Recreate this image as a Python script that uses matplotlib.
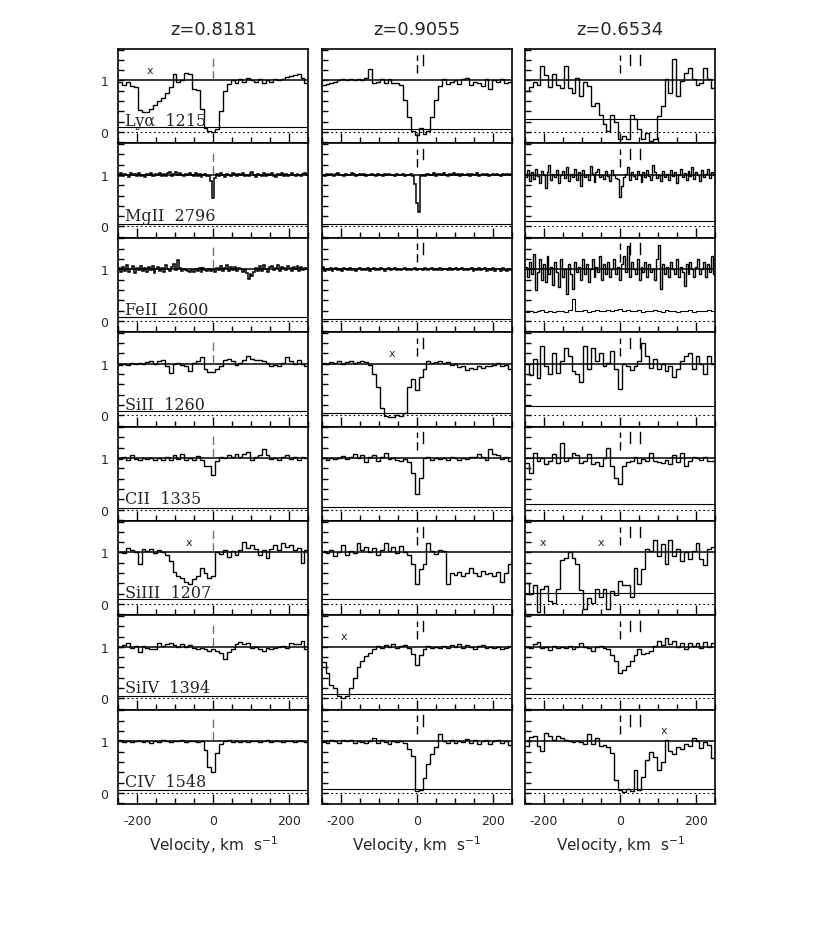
import matplotlib
matplotlib.use("Agg")
import matplotlib.pyplot as plt
import numpy as np
from matplotlib.ticker import MultipleLocator

plt.rcParams["axes.unicode_minus"] = False

# column titles and line labels
REDSHIFTS = ["z=0.8181", "z=0.9055", "z=0.6534"]
IONS = ["Ly\u03b1  1215", "MgII  2796", "FeII  2600", "SiII  1260",
        "CII  1335", "SiIII  1207", "SiIV  1394", "CIV  1548"]

# normalised flux, bins spanning -250..+250 km/s (centre bin = 0 km/s)
# ---- z = 0.8181 ----
lya_a = [0.97, 0.92, 0.98, 0.90, 0.88, 0.42, 0.38,
         0.38, 0.44, 0.52, 0.60, 0.67, 0.75, 0.88,
         1.12, 0.97, 1.00, 1.15, 1.12, 0.84, 0.82,
         0.45, 0.08, 0.03, 0.00, 0.05, 0.40, 0.80,
         0.93, 1.00, 0.95, 1.02, 0.97, 1.04, 1.00,
         0.98, 1.03, 0.95, 1.00, 0.98, 1.02, 1.00,
         1.03, 1.06, 1.08, 1.10, 1.13, 1.05, 0.95]
mg_a = [0.98, 1.03, 0.97, 1.02, 1.00, 0.96, 1.03, 0.99, 1.01, 0.97, 1.04, 0.98,
        1.00, 0.96, 1.02, 1.00, 1.03, 0.98, 0.97, 1.02, 1.00, 1.04, 0.98, 1.01,
        0.97, 1.03, 1.05, 0.98, 1.02, 1.06, 0.99, 1.03, 1.00, 0.97, 1.02, 0.99,
        1.04, 1.00, 0.97, 1.03, 0.98, 1.01, 0.96, 1.00, 1.02, 0.98, 0.97, 0.88,
        0.56, 0.93, 1.01, 0.98, 1.03, 0.99, 0.96, 1.02, 1.00, 0.98, 1.03, 1.01,
        0.97, 1.02, 0.99, 1.04, 0.98, 1.00, 0.97, 1.03, 1.05, 0.99, 0.96, 1.02,
        1.00, 0.98, 1.03, 0.97, 1.01, 0.99, 1.04, 0.98, 0.96, 1.02, 1.00, 1.03,
        0.98, 1.01, 0.97, 1.00, 1.03, 0.99, 0.98, 1.02, 1.00, 0.97, 1.01, 1.03, 0.99]
fe_a = [1.02, 0.95, 1.05, 0.97, 1.08, 0.94, 1.00, 1.06, 0.93, 1.03, 0.98, 1.07,
        0.96, 1.02, 0.95, 1.04, 0.99, 1.06, 0.92, 1.01, 1.05, 0.97, 1.03, 0.95,
        1.08, 1.00, 0.96, 1.04, 1.10, 0.98, 1.18, 1.02, 0.97, 1.00, 0.98, 0.96,
        0.95, 0.98, 0.94, 1.00, 0.97, 1.02, 0.95, 1.03, 0.98, 0.96, 1.00, 0.97,
        1.01, 0.95, 1.03, 0.98, 1.06, 0.97, 1.02, 1.08, 0.96, 1.04, 0.99, 1.05,
        0.97, 1.03, 1.00, 0.95, 0.98, 0.92, 0.82, 0.90, 0.87, 0.95, 1.02, 0.97,
        1.06, 0.96, 1.08, 1.00, 0.95, 1.04, 1.07, 0.98, 1.02, 1.08, 0.97, 1.05,
        1.03, 0.98, 1.06, 1.02, 0.96, 1.05, 1.00, 1.07, 0.97, 1.04, 0.99, 1.03, 1.00]
si2_a = [0.97, 1.00, 0.98, 1.02, 0.99, 1.02, 1.00,
         1.03, 1.06, 1.00, 1.05, 1.08, 0.95, 0.82,
         1.00, 1.02, 0.98, 0.96, 0.85, 1.02, 1.06,
         1.12, 0.90, 0.83, 0.84, 0.90, 0.95, 1.08,
         1.10, 1.05, 0.97, 1.02, 1.07, 1.15, 1.10,
         1.08, 1.08, 1.05, 1.02, 0.96, 0.98, 0.96,
         1.02, 1.12, 1.05, 1.00, 1.07, 1.00, 0.96]
c2_a = [0.98, 1.02, 0.97, 1.06, 0.98, 0.97, 1.00,
        0.99, 1.00, 0.97, 1.01, 0.96, 1.02, 0.97,
        1.05, 0.98, 1.08, 0.96, 1.00, 0.96, 1.04,
        0.96, 0.85, 0.84, 0.68, 0.95, 1.02, 1.00,
        1.05, 1.03, 1.07, 1.02, 1.08, 1.12, 0.97,
        1.02, 1.06, 1.18, 1.05, 0.98, 1.00, 0.96,
        1.02, 1.05, 0.98, 1.02, 0.97, 1.02, 1.00]
si3_a = [1.00, 0.98, 1.08, 1.05, 1.00, 0.78, 1.07,
         1.02, 1.06, 0.98, 1.04, 1.00, 0.96, 0.83,
         0.62, 0.55, 0.50, 0.42, 0.38, 0.48, 0.55,
         0.70, 0.60, 0.50, 0.55, 1.00, 0.97, 1.04,
         0.92, 1.02, 0.95, 1.05, 1.20, 1.08, 1.15,
         1.06, 0.95, 1.05, 0.90, 1.07, 1.15, 1.05,
         1.18, 1.10, 1.15, 1.05, 1.08, 0.80, 1.05]
si4_a = [1.00, 1.04, 1.08, 0.98, 1.02, 0.90, 1.02,
         0.98, 0.96, 0.95, 1.08, 1.02, 1.05, 1.08,
         1.03, 1.00, 1.05, 1.00, 1.03, 0.98, 0.96,
         0.97, 0.95, 0.92, 0.96, 0.92, 0.88, 0.77,
         0.90, 0.95, 1.05, 1.10, 1.06, 1.08, 0.98,
         1.00, 0.95, 0.92, 0.98, 0.96, 0.98, 1.00,
         1.02, 0.98, 1.08, 1.06, 1.05, 1.12, 0.96]
c4_a = [1.02, 0.99, 1.00, 0.98, 1.01, 1.00, 0.99,
        1.00, 0.97, 1.01, 0.99, 1.02, 1.00, 0.98,
        1.01, 1.00, 1.02, 0.99, 1.01, 1.00, 0.99,
        1.00, 0.83, 0.50, 0.40, 0.78, 0.95, 1.00,
        1.02, 0.99, 1.00, 0.98, 1.01, 0.99, 1.00,
        1.01, 0.98, 1.00, 1.02, 0.99, 1.00, 1.01,
        0.99, 1.00, 1.01, 0.98, 1.00, 1.01, 0.99]

# ---- z = 0.9055 ----
lya_b = [0.92, 0.93, 0.95, 0.98, 1.00, 1.02, 1.01,
         1.02, 1.00, 1.02, 1.00, 1.05, 1.22, 0.95,
         0.98, 1.02, 0.96, 1.03, 0.96, 0.95, 0.92,
         0.62, 0.30, 0.03, -0.05, 0.08, -0.04, 0.02,
         0.30, 0.62, 0.90, 1.02, 0.93, 0.98, 1.01,
         0.93, 1.03, 1.05, 0.92, 0.97, 0.96, 0.90,
         1.02, 0.83, 1.00, 0.97, 1.02, 0.96, 0.98]
mg_b = [1.00, 0.98, 1.01, 0.99, 1.02, 1.00, 0.98, 1.01, 1.03, 0.99, 1.00, 0.98,
        1.02, 1.00, 0.99, 1.03, 1.01, 0.98, 1.00, 1.02, 0.99, 1.01, 0.98, 1.00,
        0.99, 1.01, 1.00, 0.98, 1.02, 0.99, 1.00, 0.97, 1.01, 1.00, 1.02, 0.99,
        1.00, 0.98, 1.01, 0.99, 1.00, 1.02, 0.98, 1.00, 0.99, 1.01, 0.97, 0.82,
        0.45, 0.28, 0.97, 1.00, 0.98, 1.01, 1.02, 0.99, 1.00, 1.03, 0.98, 1.01,
        1.02, 0.99, 1.03, 1.00, 0.98, 1.02, 1.00, 1.03, 0.99, 1.01, 0.98, 1.02,
        1.00, 0.99, 1.01, 0.98, 1.02, 1.00, 0.99, 1.03, 0.98, 1.00, 1.01, 0.99,
        1.02, 0.98, 1.00, 1.01, 0.99, 1.02, 1.00, 0.98, 1.01, 1.00, 1.02, 0.99, 1.01]
fe_b = [1.04, 0.97, 1.00, 0.98, 1.02, 0.96, 1.01, 1.03, 0.98, 1.00, 0.97, 1.02,
        1.00, 0.98, 1.03, 0.99, 1.01, 0.97, 1.00, 1.02, 0.98, 1.01, 0.99, 1.03,
        0.97, 1.00, 1.02, 0.99, 1.01, 0.98, 1.02, 1.00, 0.97, 1.01, 1.03, 0.99,
        1.00, 1.02, 0.98, 1.01, 0.99, 1.00, 1.02, 0.98, 1.01, 0.99, 1.00, 1.02,
        0.98, 1.00, 1.01, 0.99, 1.02, 1.00, 0.98, 1.01, 1.03, 0.99, 1.00, 0.98,
        1.02, 0.99, 1.01, 1.00, 0.98, 1.02, 0.99, 1.01, 1.03, 0.98, 1.00, 1.02,
        0.99, 1.01, 0.98, 1.00, 1.02, 0.97, 1.01, 0.99, 1.03, 0.98, 1.00, 1.02,
        0.97, 1.01, 0.99, 1.02, 0.96, 1.00, 1.01, 0.97, 1.02, 0.98, 0.96, 1.00, 0.98]
si2_b = [1.02, 1.00, 1.03, 1.02, 1.05, 1.00, 1.03,
         1.06, 1.02, 1.04, 1.05, 1.03, 0.97, 0.80,
         0.55, 0.15, -0.02, -0.04, -0.03, 0.00, -0.02,
         0.05, 0.55, 0.70, 0.48, 0.75, 0.90, 1.05,
         1.02, 1.04, 1.06, 1.02, 1.03, 0.98, 1.00,
         0.93, 0.95, 0.88, 0.92, 0.90, 0.95, 0.92,
         0.96, 0.95, 0.97, 1.02, 0.96, 0.97, 0.90]
c2_b = [1.00, 0.97, 1.00, 0.98, 1.00, 1.04, 0.98,
        1.02, 1.08, 1.00, 1.06, 0.92, 1.02, 1.05,
        0.95, 1.03, 1.10, 0.98, 1.00, 0.97, 0.95,
        0.99, 0.92, 0.72, 0.30, 0.62, 1.00, 1.03,
        0.97, 1.00, 0.98, 1.00, 0.96, 1.02, 1.00,
        0.97, 1.01, 0.98, 1.03, 1.02, 1.08, 1.02,
        0.96, 1.18, 1.08, 1.05, 0.98, 1.03, 0.95]
si3_b = [1.02, 0.98, 1.05, 0.93, 1.00, 1.15, 0.95,
         1.03, 0.99, 1.18, 1.05, 1.10, 1.00, 1.08,
         0.95, 1.05, 1.18, 1.02, 1.10, 0.98, 1.12,
         1.00, 0.95, 0.78, 0.38, 0.68, 0.78, 1.18,
         1.02, 0.97, 1.04, 1.02, 0.38, 0.60, 0.57,
         0.62, 0.55, 0.60, 0.70, 0.60, 0.55, 0.65,
         0.58, 0.60, 0.55, 0.62, 0.42, 0.60, 0.78]
si4_b = [0.70, 0.50, 0.26, 0.20, 0.05, 0.00, 0.04,
         0.20, 0.40, 0.60, 0.72, 0.82, 0.88, 0.95,
         1.02, 0.98, 1.03, 1.00, 1.05, 0.98, 1.02,
         1.04, 0.97, 0.86, 0.65, 0.85, 0.95, 1.02,
         0.97, 1.00, 0.98, 1.02, 0.97, 1.03, 1.00,
         1.05, 0.98, 1.04, 1.00, 0.95, 1.02, 1.03,
         0.98, 1.00, 0.97, 1.00, 0.96, 0.98, 1.02]
c4_b = [0.98, 0.96, 1.02, 1.00, 0.97, 1.03, 1.00,
        1.02, 0.97, 1.00, 0.98, 0.96, 1.00, 1.07,
        0.96, 1.02, 0.98, 0.95, 1.00, 0.98, 1.01,
        0.96, 0.85, 0.72, 0.04, 0.06, 0.28, 0.55,
        0.75, 0.88, 1.15, 1.00, 0.96, 1.02, 0.97,
        1.00, 0.98, 1.05, 0.97, 1.02, 0.95, 1.00,
        1.03, 0.94, 1.00, 1.02, 0.97, 1.00, 0.92]

# ---- z = 0.6534 ----
lya_c = [0.80, 0.88, 0.97, 0.92, 1.28, 1.10, 0.88,
         1.12, 0.92, 0.86, 1.28, 0.85, 0.76, 1.05,
         0.70, 0.98, 0.90, 0.50, 0.57, 0.34, 0.15,
         0.02, 0.34, 0.20, -0.14, -0.08, -0.14, 0.34,
         0.25, 0.05, -0.14, -0.01, -0.17, -0.14, 0.31,
         0.50, 1.02, 0.76, 1.41, 0.70, 0.99, 1.15,
         1.25, 1.02, 0.92, 0.95, 1.25, 1.02, 0.86]
mg_c = [0.95, 1.10, 0.88, 1.05, 0.92, 1.12, 0.97, 0.85, 1.08, 1.00, 0.75, 1.05,
        1.20, 0.90, 1.02, 0.95, 1.10, 0.85, 1.00, 1.08, 0.93, 1.15, 0.88, 1.02,
        0.96, 1.12, 0.90, 1.05, 0.78, 1.10, 0.95, 1.00, 0.90, 1.18, 1.02, 0.87,
        1.05, 1.12, 0.95, 1.00, 0.92, 1.08, 0.97, 0.88, 1.10, 1.00, 0.93, 0.92,
        0.58, 0.78, 0.95, 1.02, 1.15, 0.90, 1.05, 0.98, 0.92, 1.08, 1.00, 0.87,
        1.05, 0.95, 1.10, 0.98, 0.90, 1.20, 1.05, 0.93, 1.00, 0.88, 1.08, 0.95,
        1.02, 0.90, 1.10, 0.97, 1.05, 0.85, 1.00, 1.12, 0.95, 1.03, 0.90, 1.08,
        0.98, 1.15, 0.92, 1.05, 1.00, 0.88, 1.10, 0.95, 1.02, 1.12, 0.93, 1.05, 1.00]
fe_c = [1.05, 0.85, 1.15, 0.90, 1.30, 0.60, 0.95, 1.20, 0.80, 1.10, 0.75, 1.25,
        0.90, 1.05, 0.70, 1.15, 0.95, 0.65, 1.20, 0.85, 1.00, 0.52, 1.10, 0.90,
        0.62, 1.15, 0.95, 1.05, 0.80, 1.20, 0.90, 1.10, 0.75, 1.00, 1.20, 0.85,
        1.05, 0.95, 1.25, 0.80, 1.10, 0.90, 1.15, 0.85, 1.00, 1.20, 0.90, 1.05,
        0.80, 1.10, 1.25, 0.95, 1.45, 0.85, 1.15, 1.00, 0.90, 1.20, 0.80, 1.05,
        0.95, 1.15, 0.85, 1.10, 0.95, 1.00, 0.80, 1.20, 1.48, 0.62, 1.10, 0.90,
        1.05, 0.85, 1.15, 1.00, 0.90, 1.20, 0.85, 1.05, 0.95, 0.68, 1.10, 0.90,
        1.15, 1.00, 0.85, 1.05, 1.20, 0.90, 1.00, 1.15, 0.85, 1.10, 0.95, 1.25, 0.90]
si2_c = [1.00, 0.78, 1.10, 0.72, 1.35, 0.95, 0.80,
         1.20, 0.82, 1.05, 1.30, 1.15, 0.85, 0.80,
         0.65, 1.35, 0.90, 1.30, 1.05, 1.20, 0.95,
         1.02, 1.25, 0.90, 0.50, 1.00, 0.95, 0.88,
         0.95, 1.05, 1.40, 1.15, 0.92, 1.10, 0.90,
         1.00, 0.85, 0.95, 0.75, 0.90, 1.05, 1.15,
         1.20, 0.90, 1.15, 1.00, 0.80, 1.15, 1.00]
c2_c = [0.90, 0.72, 1.10, 0.95, 1.00, 0.88, 0.95,
        1.08, 0.90, 1.30, 0.95, 1.00, 1.10, 1.05,
        0.90, 0.95, 1.08, 0.88, 0.93, 0.85, 1.00,
        1.20, 0.85, 0.62, 0.50, 0.85, 0.92, 0.95,
        1.02, 0.90, 0.98, 0.94, 1.10, 0.95, 0.92,
        0.90, 0.97, 0.88, 1.05, 0.93, 1.10, 0.85,
        0.95, 1.02, 1.00, 0.96, 1.03, 0.95, 0.95]
si3_c = [0.40, 0.20, 0.36, -0.15, 0.30, 0.35, 0.06,
         0.02, 0.30, 0.85, 0.90, 1.00, 0.90, 0.78,
         0.27, -0.10, 0.12, 0.02, 0.30, 0.14, 0.30,
         -0.10, 0.25, 0.17, 0.45, 0.36, 0.36, 0.14,
         0.70, 0.39, 0.68, 1.06, 1.03, 1.25, 0.94,
         1.16, 0.78, 1.25, 0.94, 1.06, 0.84, 1.00,
         0.87, 1.03, 1.19, 0.87, 0.75, 1.06, 1.10]
si4_c = [1.00, 0.98, 1.05, 1.10, 0.98, 1.00, 0.93,
         1.02, 0.98, 1.00, 0.97, 1.02, 0.96, 1.00,
         1.08, 1.00, 0.98, 0.92, 1.00, 1.02, 0.97,
         0.95, 0.85, 0.72, 0.50, 0.55, 0.62, 0.72,
         0.85, 0.95, 0.86, 0.88, 0.92, 1.02, 1.12,
         1.04, 1.18, 1.06, 1.12, 1.00, 1.08, 0.96,
         1.08, 1.02, 1.08, 0.98, 1.10, 1.00, 1.08]
c4_c = [0.90, 1.08, 1.10, 0.90, 0.82, 1.16, 1.10,
        1.02, 1.10, 1.06, 1.02, 1.00, 0.99, 1.01,
        0.98, 0.95, 1.14, 0.95, 1.07, 0.90, 0.92,
        0.89, 0.78, 0.25, 0.05, 0.02, 0.08, 0.03,
        0.44, 0.06, 0.30, 0.63, 0.80, 0.70, 0.45,
        0.60, 1.02, 0.82, 0.76, 0.88, 0.85, 0.95,
        0.90, 1.07, 1.00, 0.87, 0.98, 0.92, 0.68]

# error spectra: flat levels, FeII at z=0.6534 is a noisy array
err_fe_c = [0.18, 0.20, 0.17, 0.19, 0.21, 0.18, 0.20, 0.17, 0.19, 0.20, 0.18, 0.21,
            0.42, 0.20, 0.19, 0.22, 0.18, 0.20, 0.21, 0.19, 0.20, 0.22, 0.19, 0.21,
            0.23, 0.20, 0.22, 0.19, 0.20, 0.21, 0.18, 0.20, 0.19, 0.22, 0.20, 0.18,
            0.21, 0.19, 0.20, 0.18, 0.20, 0.19, 0.21, 0.18, 0.20, 0.19, 0.20, 0.21, 0.19]
ERR_A = [0.10, 0.045, 0.07, 0.08, 0.04, 0.10, 0.05, 0.05]
ERR_B = [0.05, 0.04, 0.04, 0.05, 0.06, 0.10, 0.08, 0.08]
ERR_C = [0.26, 0.10, err_fe_c, 0.18, 0.10, 0.22, 0.08, 0.07]

COLUMNS = [[lya_a, mg_a, fe_a, si2_a, c2_a, si3_a, si4_a, c4_a],
           [lya_b, mg_b, fe_b, si2_b, c2_b, si3_b, si4_b, c4_b],
           [lya_c, mg_c, fe_c, si2_c, c2_c, si3_c, si4_c, c4_c]]
ERRORS = [ERR_A, ERR_B, ERR_C]

# velocity of the components (km/s) and of blends marked with "x"
COMPONENTS = [[0], [0, 17], [0, 27, 53]]
X_MARKS = [(0, 0, -167), (0, 5, -63), (1, 3, -64), (1, 6, -192),
           (2, 5, -202), (2, 5, -51), (2, 7, 116)]

TXT = "0.15"
fig = plt.figure(figsize=(8.3, 9.28), dpi=100)
lefts = [0.1425, 0.3876, 0.6325]
width = 0.2289
top = 0.9461
height = 0.10172

for c in range(3):
    for r in range(8):
        ax = fig.add_axes([lefts[c], top - (r + 1) * height, width, height])
        flux = np.asarray(COLUMNS[c][r], dtype=float)
        edges = np.linspace(-250, 250, len(flux) + 1)
        # the finer sampled ones (MgII/FeII, first two redshifts) look a bit heavier
        lw = 1.1 if (len(flux) > 60 and c < 2) else 1.0
        ax.stairs(flux, edges, baseline=None, color="k", lw=lw)

        err = ERRORS[c][r]
        if np.ndim(err) == 0:
            ax.axhline(err, color="k", lw=0.8)
        else:
            e = np.asarray(err, dtype=float)
            ax.stairs(e, np.linspace(-250, 250, len(e) + 1), baseline=None,
                      color="k", lw=0.8)

        ax.axhline(1.0, color="k", lw=1.1)
        ax.axhline(0.0, color="k", lw=0.8, ls=(0, (1.5, 2.5)))

        comps = COMPONENTS[c]
        if c == 0:
            ax.plot([0, 0], [1.02, 1.5], color="0.45", lw=1.0, ls=(0, (6, 3)))
        else:
            ax.plot([comps[0]] * 2, [1.15, 1.5], color="k", lw=1.0, ls=(0, (6, 3)))
            for vc in comps[1:]:
                ax.plot([vc, vc], [1.3, 1.5], color="k", lw=1.0)

        for (mc, mr, mv) in X_MARKS:
            if mc == c and mr == r:
                ax.text(mv, 1.21, "x", ha="center", va="center",
                        fontsize=8, color=TXT)

        if c == 0:
            ax.text(-232, 0.13, IONS[r], family="DejaVu Serif", fontsize=11.5,
                    va="baseline", ha="left", color=TXT)

        ax.set_xlim(-250, 250)
        ax.set_ylim(-0.22, 1.61)
        ax.set_xticks([-200, 0, 200])
        ax.xaxis.set_minor_locator(MultipleLocator(50))
        ax.set_yticks([0, 1])
        ax.yaxis.set_minor_locator(MultipleLocator(0.2))
        ax.tick_params(which="both", direction="in", top=False, right=False,
                       width=1.0, labelsize=9, labelcolor=TXT, pad=7)
        ax.tick_params(axis="x", which="major", length=7)
        ax.tick_params(axis="x", which="minor", length=4)
        ax.tick_params(axis="y", which="both", length=4)
        if r < 7:
            ax.tick_params(labelbottom=False)
        if c > 0:
            ax.tick_params(labelleft=False)
        for sp in ax.spines.values():
            sp.set_linewidth(1.2)

    cx = lefts[c] + width / 2
    fig.text(cx, 0.9677, REDSHIFTS[c], ha="center", va="center",
             fontsize=13, color=TXT)
    fig.text(cx, 0.0894, "Velocity, km  s$^{-1}$", ha="center", va="center",
             fontsize=11, color=TXT)

fig.savefig("out.png", dpi=100)
